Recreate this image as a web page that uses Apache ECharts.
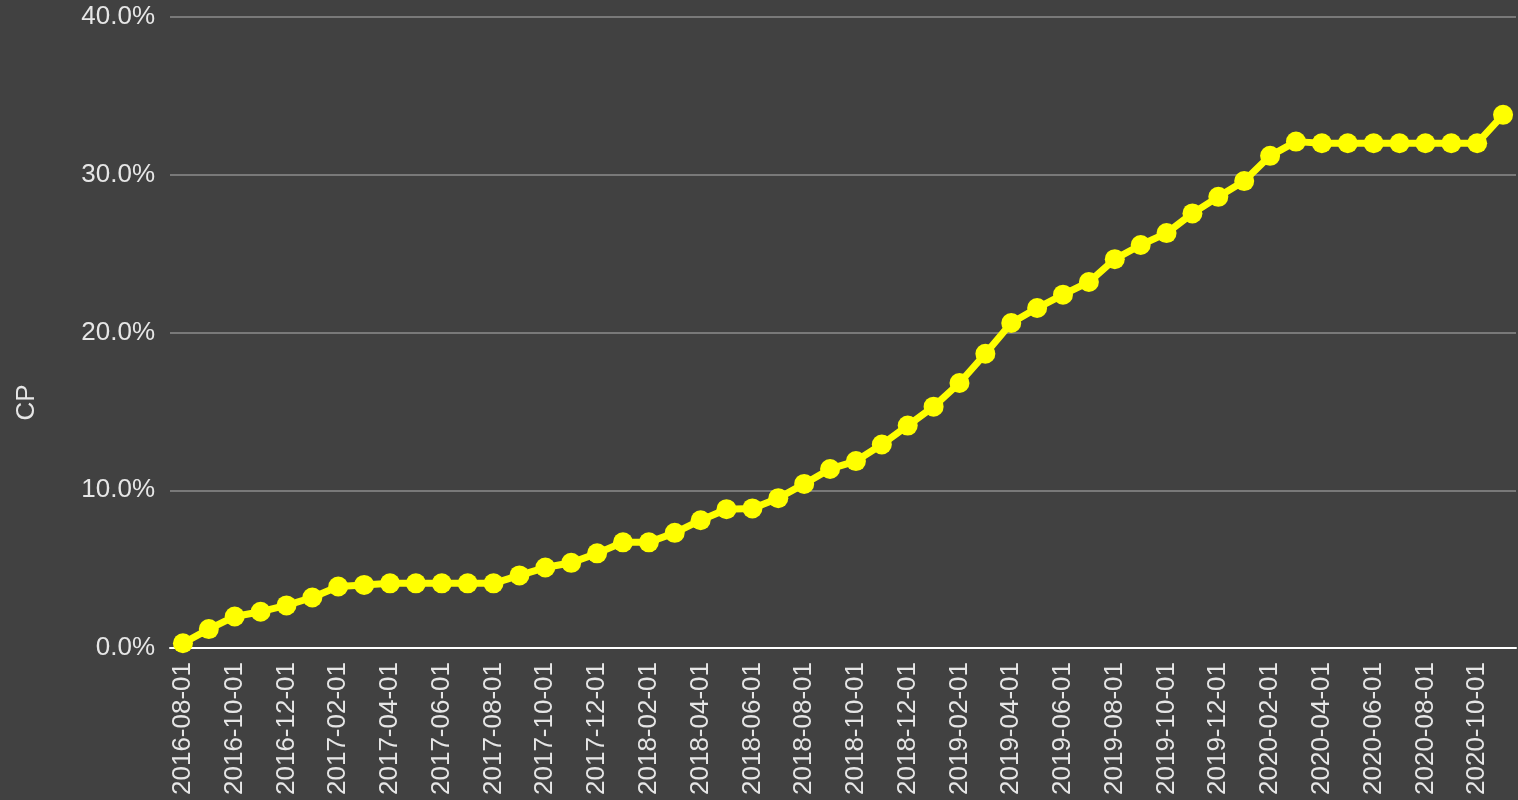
<!DOCTYPE html>
<html>
<head>
<meta charset="utf-8">
<script src="https://cdn.jsdelivr.net/npm/echarts@6/dist/echarts.min.js"></script>
<style>
  html, body { margin: 0; padding: 0; background: #414141; }
  #chart { width: 1518px; height: 800px; }
</style>
</head>
<body>
<div id="chart"></div>
<script>
// months 2016-08 .. 2020-11
const months = [
  '2016-08-01','2016-09-01','2016-10-01','2016-11-01','2016-12-01',
  '2017-01-01','2017-02-01','2017-03-01','2017-04-01','2017-05-01','2017-06-01',
  '2017-07-01','2017-08-01','2017-09-01','2017-10-01','2017-11-01','2017-12-01',
  '2018-01-01','2018-02-01','2018-03-01','2018-04-01','2018-05-01','2018-06-01',
  '2018-07-01','2018-08-01','2018-09-01','2018-10-01','2018-11-01','2018-12-01',
  '2019-01-01','2019-02-01','2019-03-01','2019-04-01','2019-05-01','2019-06-01',
  '2019-07-01','2019-08-01','2019-09-01','2019-10-01','2019-11-01','2019-12-01',
  '2020-01-01','2020-02-01','2020-03-01','2020-04-01','2020-05-01','2020-06-01',
  '2020-07-01','2020-08-01','2020-09-01','2020-10-01','2020-11-01'
]
// CP in percent
const cpValues = [
  0.3, 1.2, 2.0, 2.3, 2.7,
  3.2, 3.9, 4.0, 4.1, 4.1, 4.1,
  4.1, 4.1, 4.6, 5.1, 5.4, 6.0,
  6.7, 6.7, 7.3, 8.1, 8.8, 8.85,
  9.5, 10.4, 11.35, 11.85, 12.9, 14.1,
  15.3, 16.8, 18.65, 20.6, 21.55, 22.4,
  23.2, 24.65, 25.55, 26.3, 27.55, 28.6,
  29.6, 31.2, 32.1, 32.0, 32.0, 32.0,
  32.0, 32.0, 32.0, 32.0, 33.8
]
const yTicks = { min: 0, max: 40, step: 10 }

const chart = echarts.init(document.getElementById('chart'))

const option = {
    backgroundColor: '#414141',
    animation: false,
    grid: {
        left: 170,
        right: 2,
        top: 17,
        bottom: 152
    },
    xAxis: {
        type: 'category',
        data: months,
        boundaryGap: true,
        axisLine: {
            lineStyle: { color: '#ffffff', width: 2 }
        },
        axisTick: { show: false },
        axisLabel: {
            interval: 1,
            rotate: 90,
            margin: 14,
            color: '#e6e6e6',
            fontSize: 26,
            fontFamily: 'Liberation Sans'
        },
        splitLine: { show: false }
    },
    yAxis: {
        type: 'value',
        min: yTicks.min,
        max: yTicks.max,
        interval: yTicks.step,
        name: 'CP',
        nameLocation: 'middle',
        nameGap: 130,
        nameRotate: 90,
        nameTextStyle: {
            color: '#e6e6e6',
            fontSize: 26,
            fontFamily: 'Liberation Sans',
            padding: [0, 140, 0, 0]
        },
        axisLine: { show: false },
        axisTick: { show: false },
        axisLabel: {
            margin: 15,
            color: '#e6e6e6',
            fontSize: 26,
            fontFamily: 'Liberation Sans',
            formatter: v => v.toFixed(1) + '%'
        },
        splitLine: {
            lineStyle: { color: '#8c8c8c', width: 1.5 }
        }
    },
    series: [
        {
            name: 'CP',
            type: 'line',
            data: cpValues,
            symbol: 'circle',
            symbolSize: 20,
            showAllSymbol: true,
            itemStyle: { color: '#ffff00' },
            lineStyle: { color: '#ffff00', width: 7 }
        }
    ]
}

chart.setOption(option)
</script>
</body>
</html>
